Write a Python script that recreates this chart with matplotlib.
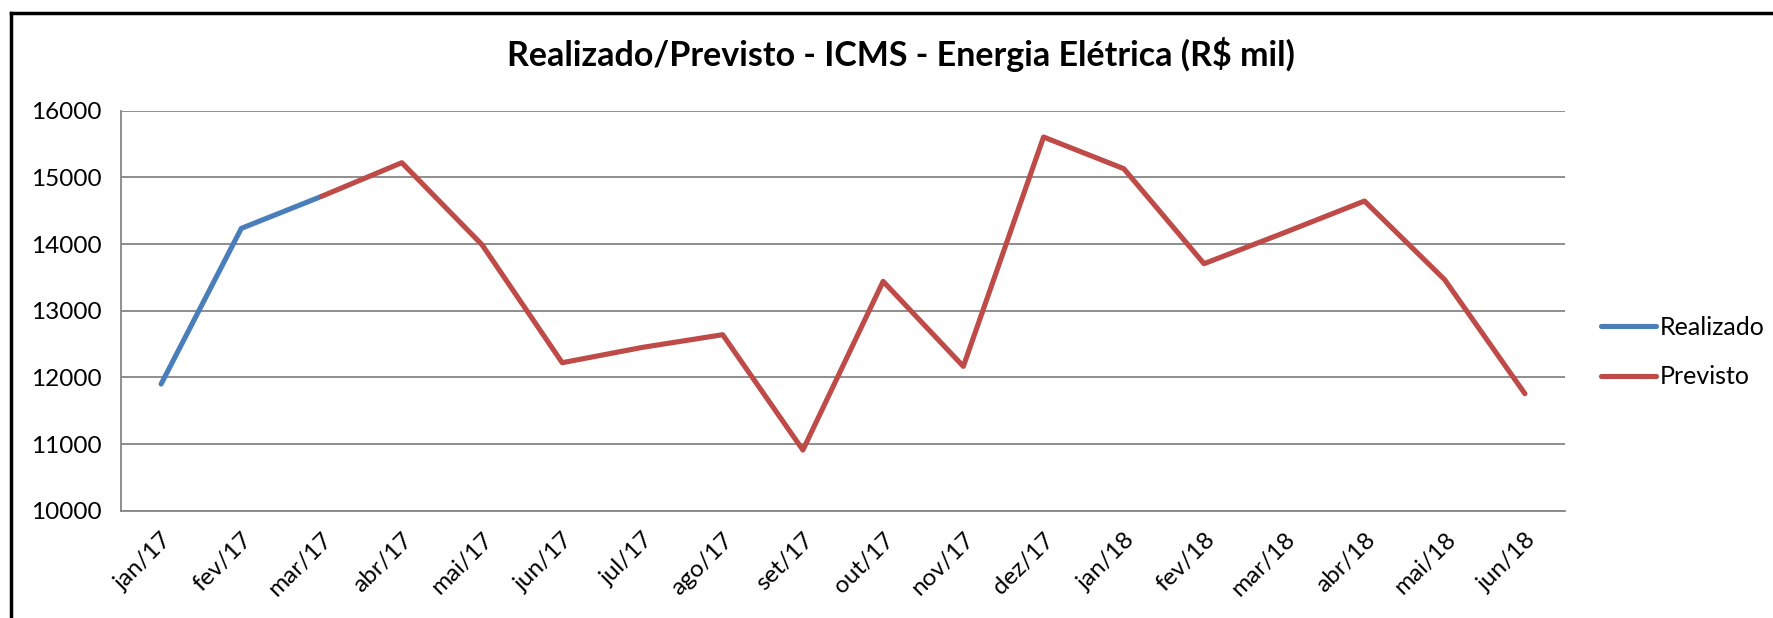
import numpy as np
import matplotlib
matplotlib.use("Agg")
import matplotlib.pyplot as plt
from matplotlib.lines import Line2D

plt.rcParams['font.family'] = ['Lato', 'DejaVu Sans']

meses = ['jan/17', 'fev/17', 'mar/17', 'abr/17', 'mai/17', 'jun/17', 'jul/17',
         'ago/17', 'set/17', 'out/17', 'nov/17', 'dez/17', 'jan/18', 'fev/18',
         'mar/18', 'abr/18', 'mai/18', 'jun/18']
realizado = [11900, 14235, 14715] + [np.nan] * 15
previsto = [np.nan, np.nan, 14715, 15220, 13990, 12220, 12450, 12640, 10910,
            13440, 12165, 15605, 15130, 13705, 14170, 14645, 13465, 11755]

azul = '#4A7EBB'
vermelho = '#BE4B48'
cinza = '#868686'

fig = plt.figure(figsize=(17.74, 6.18), dpi=100)
ax = fig.add_axes([0.0682, 0.1736, 0.8140, 0.6473])

x = np.arange(len(meses))
ax.plot(x, realizado, color=azul, lw=3.7, label='Realizado', solid_capstyle='round')
ax.plot(x, previsto, color=vermelho, lw=3.7, label='Previsto', solid_capstyle='round')

ax.set_xlim(-0.5, len(meses) - 0.5)
ax.set_ylim(10000, 16000)
ax.set_yticks(range(10000, 16001, 1000))
ax.set_xticks(x)
ax.set_xticklabels(meses, rotation=45, ha='right', rotation_mode='anchor')
ax.tick_params(axis='both', length=0, labelsize=17.5, colors='black')
ax.tick_params(axis='y', pad=14)
ax.tick_params(axis='x', pad=13)

ax.grid(axis='y', color=cinza, lw=1.3)
ax.set_axisbelow(True)
for s in ['top', 'right']:
    ax.spines[s].set_visible(False)
for s in ['left', 'bottom']:
    ax.spines[s].set_color(cinza)
    ax.spines[s].set_linewidth(1.3)

fig.text(0.508, 0.912, 'Realizado/Previsto - ICMS - Energia Elétrica (R$ mil)',
         ha='center', va='center', fontsize=24.5, fontweight='bold')

leg = ax.legend(loc='center left', bbox_to_anchor=(1.009, 0.396), frameon=False,
                fontsize=18, handlelength=2.2, handletextpad=0.15, labelspacing=1.05)

# moldura do gráfico (só esquerda e topo aparecem)
fig.add_artist(Line2D([0.0062, 0.0062], [0.0, 0.979], transform=fig.transFigure,
                      color='black', lw=2.5))
fig.add_artist(Line2D([0.0062, 1.0], [0.979, 0.979], transform=fig.transFigure,
                      color='black', lw=2.5))

fig.savefig('out.png', dpi=100)
